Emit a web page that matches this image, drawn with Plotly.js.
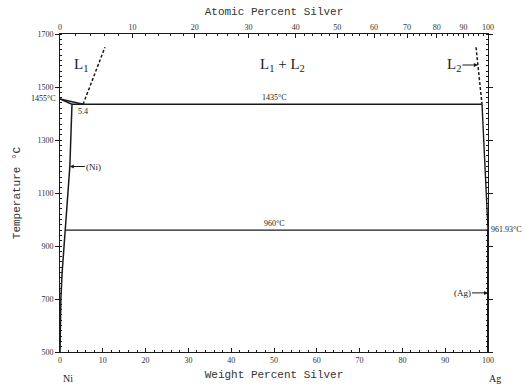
<!DOCTYPE html>
<html>
<head>
<meta charset="utf-8">
<script src="https://cdn.plot.ly/plotly-3.0.1.min.js"></script>
<style>html,body{margin:0;padding:0;background:#fff;}#chart{width:526px;height:387px;}</style>
</head>
<body>
<div id="chart"></div>
<script>
// ---- data (weight percent Ag, temperature °C) ----
const niLiquidusWt = [0, 5.4];
const niLiquidusT = [1455, 1435];
const l1DashedWt = [5.4, 10.5];
const l1DashedT = [1435, 1650];
const niSolidusWt = [0, 2.8, 2.3, 1.2, 0.5, 0.2, 0];
const niSolidusT = [1455, 1435, 1200, 960, 800, 700, 500];
const monotecticWt = [2.8, 98.6];
const monotecticT = [1435, 1435];
const agLiquidusWt = [98.6, 99.3, 100];
const agLiquidusT = [1435, 1200, 961.93];
const l2DashedWt = [97.2, 98.6];
const l2DashedT = [1650, 1435];
const eutecticWt = [1.2, 99.9];
const eutecticT = [960, 960];
const agSolidusWt = [99.9, 100, 100];
const agSolidusT = [960, 961.93, 500];
const atomicTickLabels = [0, 10, 20, 30, 40, 50, 60, 70, 80, 90, 100];
const yTicks = [500, 700, 900, 1100, 1300, 1500, 1700];
const xTicks = [0, 10, 20, 30, 40, 50, 60, 70, 80, 90, 100];

// atomic -> weight percent conversion (molar masses)
const M_AG = 107.87, M_NI = 58.69;
function atToWt(a) { return 100 * a * M_AG / (a * M_AG + (100 - a) * M_NI); }
const atomicTickPos = atomicTickLabels.map(atToWt);
const atomicMinor = [];
for (let a = 0; a <= 100; a += 2) atomicMinor.push(atToWt(a));

const ink = '#1a1a1a';
function line(x, y, dash, w) {
  return { x: x, y: y, mode: 'lines', type: 'scatter', hoverinfo: 'skip', showlegend: false,
    line: { color: ink, width: w || 1.4, dash: dash || 'solid' } };
}
const traces = [
  line(niLiquidusWt, niLiquidusT),
  line(l1DashedWt, l1DashedT, '3px,2px', 1.5),
  line(niSolidusWt, niSolidusT, 'solid', 1.5),
  line(monotecticWt, monotecticT),
  line(agLiquidusWt, agLiquidusT),
  line(l2DashedWt, l2DashedT, '3px,2px', 1.5),
  line(eutecticWt, eutecticT),
  line(agSolidusWt, agSolidusT, 'solid', 2),
  { x: [0, 100], y: [500, 500], xaxis: 'x2', yaxis: 'y', mode: 'lines', line: { width: 0 }, showlegend: false, hoverinfo: 'skip' }
];

const serif = 'Liberation Serif, serif';
const mono = 'Liberation Mono, monospace';
const tickFont = { family: serif, size: 8, color: '#333' };

const layout = {
  width: 526, height: 387,
  margin: { l: 60, r: 38, t: 34, b: 35 },
  paper_bgcolor: '#fff', plot_bgcolor: '#fff',
  showlegend: false,
  xaxis: {
    range: [0, 100], tickmode: 'array', tickvals: xTicks, ticktext: xTicks.map(String),
    showgrid: false, zeroline: false, showline: true, linecolor: ink, linewidth: 1,
    ticks: 'inside', ticklen: 4, tickcolor: ink, tickfont: tickFont,
    minor: { dtick: 2, ticks: 'inside', ticklen: 2, tickcolor: ink },
    title: { text: 'Weight Percent Silver', font: { family: mono, size: 11, color: '#333' }, standoff: 6 }
  },
  xaxis2: {
    overlaying: 'x', side: 'top', anchor: 'y', range: [0, 100],
    tickmode: 'array', tickvals: atomicTickPos, ticktext: atomicTickLabels.map(String),
    showgrid: false, zeroline: false, showline: true, linecolor: ink, linewidth: 1,
    ticks: 'inside', ticklen: 4, tickcolor: ink, tickfont: tickFont,
    minor: { tickvals: atomicMinor, ticks: 'inside', ticklen: 2, tickcolor: ink },
    title: { text: 'Atomic Percent Silver', font: { family: mono, size: 11, color: '#333' }, standoff: 4 }
  },
  yaxis: {
    range: [500, 1700], tickmode: 'array', tickvals: yTicks, ticktext: yTicks.map(String),
    showgrid: false, zeroline: false, showline: true, linecolor: ink, linewidth: 1, mirror: 'ticks',
    ticks: 'outside', ticklen: 4, tickcolor: ink, tickfont: tickFont,
    minor: { dtick: 20, ticks: 'inside', ticklen: 2, tickcolor: ink },
    title: { text: 'Temperature °C', font: { family: mono, size: 11, color: '#333' }, standoff: 14 }
  },
  annotations: [
    { x: 0, y: 1455, xanchor: 'right', yanchor: 'middle', text: '1455°C', showarrow: false, xshift: -2, font: { family: serif, size: 8, color: ink } },
    { x: 5.4, y: 1435, xanchor: 'center', yanchor: 'top', text: '5.4', showarrow: false, yshift: -1, font: { family: serif, size: 8, color: ink } },
    { x: 50, y: 1435, xanchor: 'center', yanchor: 'bottom', text: '1435°C', showarrow: false, font: { family: serif, size: 8, color: ink } },
    { x: 50, y: 960, xanchor: 'center', yanchor: 'bottom', text: '960°C', showarrow: false, font: { family: serif, size: 8, color: ink } },
    { x: 100, y: 961.93, xanchor: 'left', yanchor: 'middle', text: '961.93°C', showarrow: false, xshift: 1, font: { family: serif, size: 8, color: ink } },
    { x: 4.8, y: 1583, text: 'L<sub>1</sub>', showarrow: false, font: { family: serif, size: 15, color: ink } },
    { x: 52, y: 1583, text: 'L<sub>1</sub> + L<sub>2</sub>', showarrow: false, font: { family: serif, size: 15, color: ink } },
    { x: 97.64, y: 1583, text: 'L<sub>2</sub>', showarrow: true, ax: -24, ay: 0, arrowhead: 2, arrowsize: 0.8, arrowwidth: 1, arrowcolor: ink, font: { family: serif, size: 15, color: ink } },
    { x: 2.3, y: 1200, text: '(Ni)', showarrow: true, ax: 24, ay: 0, arrowhead: 2, arrowsize: 0.8, arrowwidth: 1, arrowcolor: ink, font: { family: serif, size: 9, color: ink } },
    { x: 100, y: 723, text: '(Ag)', showarrow: true, ax: -26, ay: 0, arrowhead: 2, arrowsize: 0.8, arrowwidth: 1, arrowcolor: ink, font: { family: serif, size: 9, color: ink } },
    { x: 0, y: 500, text: 'Ni', showarrow: false, xanchor: 'left', yanchor: 'top', xshift: 1, yshift: -19, font: { family: serif, size: 10, color: ink } },
    { x: 100, y: 500, text: 'Ag', showarrow: false, xanchor: 'left', yanchor: 'top', xshift: -1, yshift: -19, font: { family: serif, size: 10, color: ink } }
  ]
};

Plotly.newPlot('chart', traces, layout, { displayModeBar: false, staticPlot: true });
</script>
</body>
</html>
